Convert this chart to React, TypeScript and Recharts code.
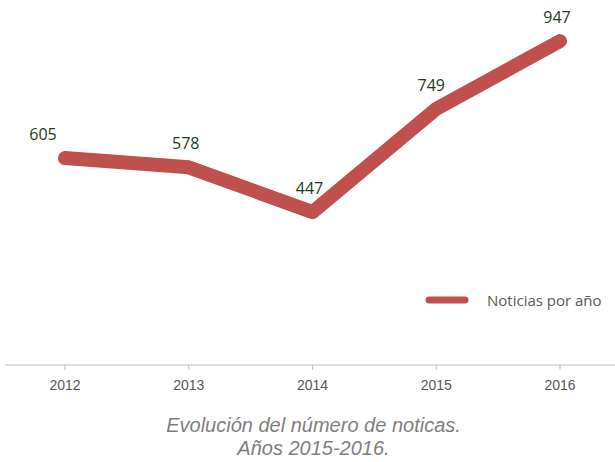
import { LineChart, Line, XAxis, YAxis, LabelList } from "recharts"

const years = ["2012", "2013", "2014", "2015", "2016"]
const noticias = [605, 578, 447, 749, 947]

const data = years.map((year, i) => ({ year, noticias: noticias[i] }))

const renderLabel = (props: any) => {
  const { x, y, value, index } = props
  const dx = index === 0 ? -22 : index === 3 ? -5 : -3
  return (
    <text
      x={x + dx}
      y={y - 18}
      textAnchor="middle"
      fill="#1f3a22"
      fontSize={16}
      fontFamily="'Open Sans', 'Noto Sans', sans-serif"
    >
      {value}
    </text>
  )
}

export default function App() {
  return (
    <div style={{ position: "absolute", left: 0, top: 0, width: 615, height: 462, background: "#fff", overflow: "hidden" }}>
      <LineChart width={615} height={462} data={data} margin={{ top: 23, right: 0, bottom: 67, left: 5 }}>
        <XAxis
          dataKey="year"
          padding={{ left: 60, right: 55 }}
          axisLine={{ stroke: "#bfbfbf" }}
          tickLine={{ stroke: "#bfbfbf" }}
          tickSize={5}
          tickMargin={10}
          height={30}
          tick={{ fill: "#595959", fontSize: 14, fontFamily: "'Liberation Sans', Arial, sans-serif" }}
        />
        <YAxis hide domain={[0, 1000]} />
        <Line
          dataKey="noticias"
          name="Noticias por año"
          type="linear"
          stroke="#C0504D"
          strokeWidth={14}
          strokeLinecap="round"
          strokeLinejoin="round"
          dot={false}
          activeDot={false}
          isAnimationActive={false}
        >
          <LabelList dataKey="noticias" content={renderLabel} />
        </Line>
      </LineChart>
      <div
        style={{
          position: "absolute",
          left: 423,
          top: 290,
          display: "flex",
          alignItems: "center",
          fontFamily: "'Open Sans', sans-serif",
          fontSize: 15,
          color: "#595959",
        }}
      >
        <svg width={48} height={20} style={{ marginRight: 16 }}>
          <line x1={6} y1={10} x2={42} y2={10} stroke="#C0504D" strokeWidth={7} strokeLinecap="round" />
        </svg>
        Noticias por año
      </div>
      <div
        style={{
          position: "absolute",
          left: 0,
          top: 414,
          width: 627,
          textAlign: "center",
          fontFamily: "'Liberation Sans', Arial, sans-serif",
          fontStyle: "italic",
          fontSize: 20,
          lineHeight: "23px",
          color: "#7f7f7f",
        }}
      >
        Evolución del número de noticas.
        <br />
        Años 2015-2016.
      </div>
    </div>
  )
}
